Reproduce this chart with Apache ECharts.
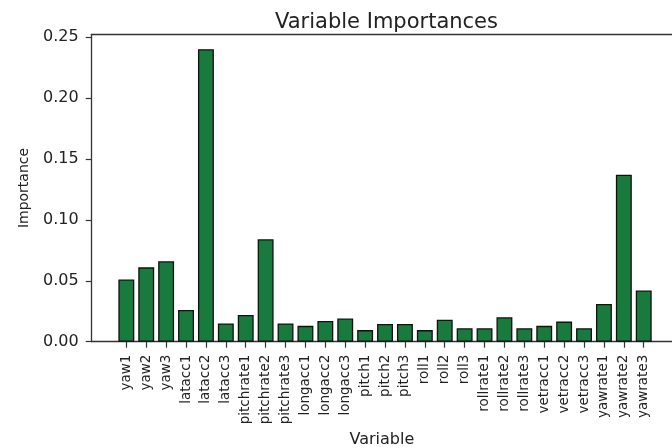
<!DOCTYPE html>
<html>
<head>
<meta charset="utf-8">
<script src="https://cdn.jsdelivr.net/npm/echarts@6/dist/echarts.min.js"></script>
<style>html,body{margin:0;padding:0;background:#fff}#c{width:672px;height:448px}</style>
</head>
<body>
<div id="c"></div>
<script>
const categories = ['yaw1','yaw2','yaw3','latacc1','latacc2','latacc3','pitchrate1','pitchrate2','pitchrate3','longacc1','longacc2','longacc3','pitch1','pitch2','pitch3','roll1','roll2','roll3','rollrate1','rollrate2','rollrate3','vetracc1','vetracc2','vetracc3','yawrate1','yawrate2','yawrate3'];
const importances = [0.051,0.061,0.066,0.026,0.240,0.015,0.022,0.084,0.015,0.013,0.017,0.019,0.0095,0.0145,0.0145,0.0095,0.018,0.011,0.011,0.020,0.011,0.013,0.0165,0.011,0.031,0.137,0.042];
const yTicks = [0, 0.05, 0.10, 0.15, 0.20, 0.25];

// visible part of the axes (the right side of the original plot is cropped)
const xMin = -1.74, xMax = 27.42;
const gridLeft = 91.7, gridRight = 0, gridTop = 34.3, gridBottom = 106.3;
const pxPerUnit = (672 - gridLeft - gridRight) / (xMax - xMin);
const xTicks = categories.map((_, i) => i);

const chart = echarts.init(document.getElementById('c'), null, {renderer: 'canvas'});
const font = 'DejaVu Sans';
const spine = {color: '#333', width: 1.3};
chart.setOption({
  animation: false,
  backgroundColor: '#fff',
  title: {
    text: 'Variable Importances',
    left: 270, top: 7,
    textStyle: {fontFamily: font, fontSize: 21, fontWeight: 'normal', color: '#222'}
  },
  grid: {left: gridLeft, right: gridRight, top: gridTop, bottom: gridBottom, outerBoundsMode: 'none', containLabel: false},
  xAxis: [{
    type: 'value', min: xMin, max: xMax, position: 'bottom',
    name: 'Variable', nameLocation: 'middle', nameGap: 81,
    nameTextStyle: {fontFamily: font, fontSize: 16, color: '#222'},
    axisLine: {show: true, onZero: false, lineStyle: spine},
    axisTick: {show: true, length: 6, customValues: xTicks, lineStyle: {color: '#333', width: 1.2}},
    axisLabel: {
      customValues: xTicks, rotate: 90, margin: 13,
      fontFamily: font, fontSize: 13.5, color: '#222',
      formatter: v => categories[Math.round(v)] || ''
    },
    splitLine: {show: false}
  }, {
    type: 'value', min: xMin, max: xMax, position: 'top',
    axisLine: {show: true, onZero: false, lineStyle: spine},
    axisTick: {show: false}, axisLabel: {show: false}, splitLine: {show: false}
  }],
  yAxis: {
    type: 'value', min: 0, max: 0.2522,
    name: 'Importance', nameLocation: 'middle', nameGap: 60,
    nameTextStyle: {fontFamily: font, fontSize: 14, color: '#222'},
    axisLine: {show: true, onZero: false, lineStyle: spine},
    axisTick: {show: true, length: 6, customValues: yTicks, lineStyle: {color: '#333', width: 1.2}},
    axisLabel: {
      customValues: yTicks, margin: 13,
      fontFamily: font, fontSize: 16, color: '#222',
      formatter: v => v.toFixed(2)
    },
    splitLine: {show: false}
  },
  series: [{
    type: 'bar',
    xAxisIndex: 0,
    data: importances.map((v, i) => [i, v]),
    barWidth: 0.8 * pxPerUnit,
    itemStyle: {color: '#187b3d', borderColor: '#111', borderWidth: 1.3}
  }]
});
</script>
</body>
</html>
